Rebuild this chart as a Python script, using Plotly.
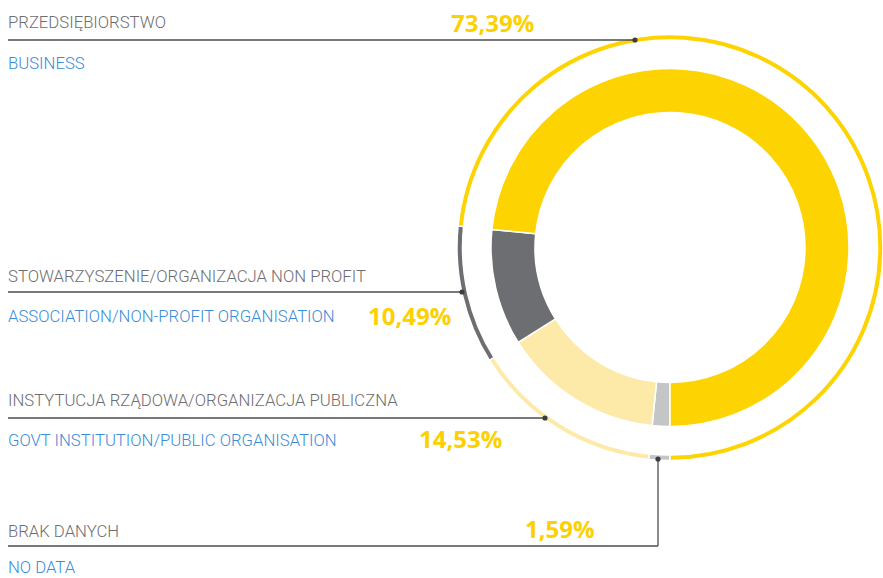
import plotly.graph_objects as go

# ---- data ----
categories_pl = ["BRAK DANYCH", "INSTYTUCJA RZĄDOWA/ORGANIZACJA PUBLICZNA",
                 "STOWARZYSZENIE/ORGANIZACJA NON PROFIT", "PRZEDSIĘBIORSTWO"]
categories_en = ["NO DATA", "GOVT INSTITUTION/PUBLIC ORGANISATION",
                 "ASSOCIATION/NON-PROFIT ORGANISATION", "BUSINESS"]
values = [1.59, 14.53, 10.49, 73.39]
colors = ["#c4c5c7", "#feeaa8", "#6d6e71", "#fdd401"]

W, H = 883, 578
CX, CY = 670, 247.5
R_OUT, R_RING_IN = 213, 207.5
R_DONUT, R_HOLE = 179, 135

# label layout (pixel positions of texts / leader lines)
label_rows = {  # category index -> (pl text y, line y, en text y, line end x, pct x, pct y)
    3: (22, 40, 63, 635, 492, 22),
    2: (276, 292, 316, 462, 409, 315),
    1: (400, 418, 440, 545, 460, 438),
    0: (531, 546, 567, 658, 560, 528),
}

def clamp(v):
    return min(1.0, max(0.0, v))

def dom(r):
    return dict(x=[clamp((CX - r) / W), clamp((CX + r) / W)],
                y=[clamp(1 - (CY + r) / H), clamp(1 - (CY - r) / H)])

fig = go.Figure()

# outer thin ring
fig.add_trace(go.Pie(
    labels=categories_en, values=values, sort=False, direction="clockwise",
    rotation=180, hole=R_RING_IN / R_OUT, domain=dom(R_OUT),
    marker=dict(colors=colors, line=dict(color="white", width=1.5)),
    textinfo="none", hoverinfo="label+percent", showlegend=False,
))
# main donut
fig.add_trace(go.Pie(
    labels=categories_en, values=values, sort=False, direction="clockwise",
    rotation=180, hole=R_HOLE / R_DONUT, domain=dom(R_DONUT),
    marker=dict(colors=colors, line=dict(color="white", width=1.5)),
    textinfo="none", hoverinfo="label+percent", showlegend=False,
))

annotations = []
shapes = []
for i, (ty, ly, ey, lx, px, py) in label_rows.items():
    # leader line
    if i == 0:
        pts = [(8, ly), (lx, ly), (lx, 459)]
        dot = (lx, 459)
    else:
        pts = [(8, ly), (lx, ly)]
        dot = (lx, ly)
    for (x0, y0), (x1, y1) in zip(pts[:-1], pts[1:]):
        shapes.append(dict(type="line", xref="x", yref="y", x0=x0, y0=y0, x1=x1, y1=y1,
                           line=dict(color="#4d4d4f", width=1.3), layer="above"))
    shapes.append(dict(type="circle", xref="x", yref="y",
                       x0=dot[0] - 2.6, x1=dot[0] + 2.6, y0=dot[1] - 2.6, y1=dot[1] + 2.6,
                       fillcolor="#3d3d3f", line=dict(width=0), layer="above"))
    annotations.append(dict(x=6, y=ty, xref="x", yref="y", text=categories_pl[i],
                            showarrow=False, xanchor="left", yanchor="middle",
                            font=dict(family="Roboto", size=16.7, color="#6d6e71", weight=300)))
    annotations.append(dict(x=6, y=ey, xref="x", yref="y", text=categories_en[i],
                            showarrow=False, xanchor="left", yanchor="middle",
                            font=dict(family="Roboto", size=16.7, color="#3a8dd6", weight=300)))
    annotations.append(dict(x=px, y=py, xref="x", yref="y",
                            text=f"{values[i]:.2f}%".replace(".", ","),
                            showarrow=False, xanchor="center", yanchor="middle",
                            font=dict(family="Open Sans", size=24, color="#fdd000", weight=700)))

fig.update_layout(
    width=W, height=H, margin=dict(l=0, r=0, t=0, b=0),
    paper_bgcolor="white", plot_bgcolor="rgba(0,0,0,0)",
    xaxis=dict(range=[0, W], visible=False, fixedrange=True, domain=[0, 1]),
    yaxis=dict(range=[H, 0], visible=False, fixedrange=True, domain=[0, 1]),
    annotations=annotations, shapes=shapes, showlegend=False,
)

fig.write_html("out.html", config={"displayModeBar": False},
               post_script="document.body.style.margin='0';document.body.style.overflow='hidden';")
